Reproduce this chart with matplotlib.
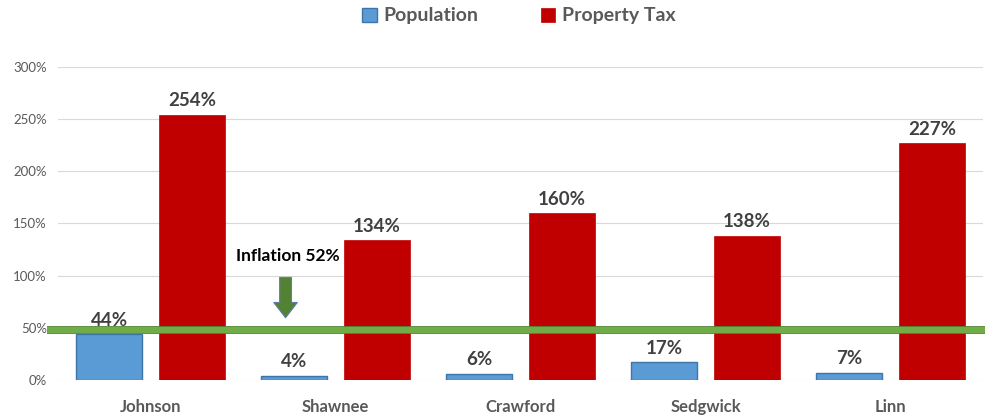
import matplotlib.pyplot as plt
import matplotlib.patheffects as pe
import numpy as np

plt.rcParams['font.family'] = ['Lato', 'DejaVu Sans']

# data
counties = ['Johnson', 'Shawnee', 'Crawford', 'Sedgwick', 'Linn']
population = [44, 4, 6, 17, 7]
property_tax = [254, 134, 160, 138, 227]
inflation = 52
inflation_line = 48  # where the green line sits in the picture
yticks = [0, 50, 100, 150, 200, 250, 300]

blue = '#5B9BD5'
red = '#C00000'
green = '#70AD47'
grey = '#595959'

fig = plt.figure(figsize=(9.85, 4.17), dpi=100)
ax = fig.add_axes([58 / 985, 1 - 380 / 417, 925 / 985, 313 / 417])

x = np.arange(len(counties))
w = 0.357
off = 0.223
b1 = ax.bar(x - off, population, w, color=blue, edgecolor='#3E75A8', linewidth=1, zorder=2,
            label='Population')
b2 = ax.bar(x + off, property_tax, w, color=red, edgecolor=red, linewidth=0.5, zorder=2,
            label='Property Tax')

for bars, vals in ((b1, population), (b2, property_tax)):
    for r, v in zip(bars, vals):
        ax.annotate(f'{v}%', (r.get_x() + r.get_width() / 2, v), xytext=(0, 4),
                    textcoords='offset points', ha='center', va='bottom',
                    fontsize=13.5, fontweight='bold', color='#404040', zorder=5)

# inflation line
ax.plot([-0.012, 1.003], [inflation_line, inflation_line], color=green, lw=4.6,
        transform=ax.get_yaxis_transform(), clip_on=False, zorder=4,
        path_effects=[pe.Stroke(linewidth=5.6, foreground='#4E7D32'), pe.Normal()],
        solid_capstyle='butt')

ax.annotate('', xy=(0.73, inflation_line + 9), xytext=(0.73, 101),
            arrowprops=dict(arrowstyle='simple,head_width=1.7,head_length=1.1,tail_width=0.85',
                            fc='#548235', ec='#5A7FA8', lw=0.8), zorder=5)
ax.text(0.74, 119, f'Inflation {inflation}%', ha='center', va='center',
        fontsize=12.5, fontweight='bold', color='black', zorder=5)

ax.set_xlim(-0.5, len(counties) - 0.5)
ax.set_ylim(0, 300)
ax.set_yticks(yticks)
ax.set_yticklabels([f'{t}%' for t in yticks], fontsize=9.5, color=grey)
ax.set_xticks(x)
ax.set_xticklabels(counties, fontsize=12, fontweight='bold', color=grey)
ax.tick_params(length=0, pad=8)
ax.tick_params(axis='x', pad=14)
ax.grid(axis='y', color='#D9D9D9', lw=0.8, zorder=0)
ax.set_axisbelow(True)
for s in ax.spines.values():
    s.set_visible(False)

fig.legend(handles=[b1, b2], loc='center', bbox_to_anchor=(0.527, 1 - 16 / 417), ncol=2,
           frameon=False, handlelength=0.75, handleheight=0.75,
           handletextpad=0.35, columnspacing=3.2,
           prop={'weight': 'bold', 'size': 14})
for t in fig.legends[0].get_texts():
    t.set_color(grey)

fig.savefig('out.png', dpi=100)
